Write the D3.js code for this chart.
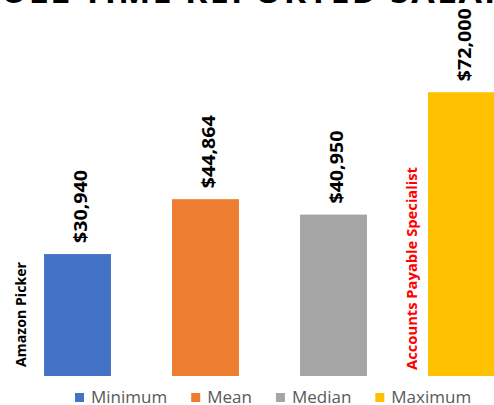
<!DOCTYPE html>
<html>
<head>
<meta charset="utf-8">
<script src="https://cdn.jsdelivr.net/npm/d3@7"></script>
<style>
html,body{margin:0;padding:0;background:#fff;}
svg{display:block;}
</style>
</head>
<body>
<svg id="chart" width="494" height="405"></svg>
<script>
// ---- data ----
const title = "FULL TIME REPORTED SALARY";
const series = ["Minimum", "Mean", "Median", "Maximum"];
const values = [30940, 44864, 40950, 72000];
const colors = ["#4472C4", "#ED7D31", "#A5A5A5", "#FFC000"];
const lowLabel = "Amazon Picker";
const highLabel = "Accounts Payable Specialist";

const svg = d3.select("#chart");

const x = d3.scaleBand().domain(series).range([13.5, 525.5]).paddingInner(0.477).paddingOuter(0.2385);
const y = d3.scaleLinear().domain([0, 80000]).range([376, 60.7]);
const fmt = v => "$" + d3.format(",")(v);

// title (mostly cut off at the top)
svg.append("text")
  .attr("x", 255).attr("y", 3)
  .attr("text-anchor", "middle")
  .attr("font-family", "'Open Sans', sans-serif")
  .attr("font-weight", "bold")
  .attr("font-size", 34)
  .attr("fill", "#000")
  .attr("textLength", 550)
  .attr("lengthAdjust", "spacing")
  .text(title);

// bars
svg.selectAll("rect.bar").data(series).enter().append("rect")
  .attr("class", "bar")
  .attr("x", d => x(d))
  .attr("width", x.bandwidth())
  .attr("y", (d, i) => y(values[i]))
  .attr("height", (d, i) => y(0) - y(values[i]))
  .attr("fill", (d, i) => colors[i]);

// value labels (rotated)
svg.selectAll("text.val").data(series).enter().append("text")
  .attr("class", "val")
  .attr("transform", (d, i) => `translate(${x(d) + x.bandwidth() / 2 + 9},${y(values[i]) - 11}) rotate(-90)`)
  .attr("text-anchor", "start")
  .attr("font-family", "'Open Sans', sans-serif")
  .attr("font-weight", "bold")
  .attr("font-size", 18.5)
  .attr("fill", "#000")
  .attr("textLength", 73)
  .attr("lengthAdjust", "spacingAndGlyphs")
  .text((d, i) => fmt(values[i]));

// category annotations
svg.append("text")
  .attr("transform", `translate(26,367) rotate(-90)`)
  .attr("font-family", "'Open Sans', sans-serif")
  .attr("font-weight", "bold")
  .attr("font-size", 15)
  .attr("fill", "#000")
  .attr("textLength", 105)
  .attr("lengthAdjust", "spacingAndGlyphs")
  .text(lowLabel);

svg.append("text")
  .attr("transform", `translate(${x("Maximum") - 11},370) rotate(-90)`)
  .attr("font-family", "'Open Sans', sans-serif")
  .attr("font-weight", "bold")
  .attr("font-size", 15)
  .attr("fill", "#FF0000")
  .attr("textLength", 203)
  .attr("lengthAdjust", "spacingAndGlyphs")
  .text(highLabel);

// legend
const legend = svg.append("g");
let cx = 75;
series.forEach((s, i) => {
  legend.append("rect").attr("x", cx).attr("y", 393).attr("width", 9).attr("height", 9).attr("fill", colors[i]);
  const t = legend.append("text")
    .attr("x", cx + 16).attr("y", 403)
    .attr("font-family", "'Open Sans', sans-serif")
    .attr("font-size", 17)
    .attr("fill", "#595959")
    .text(s);
  cx += 16 + t.node().getComputedTextLength() + 24;
});
</script>
</body>
</html>
